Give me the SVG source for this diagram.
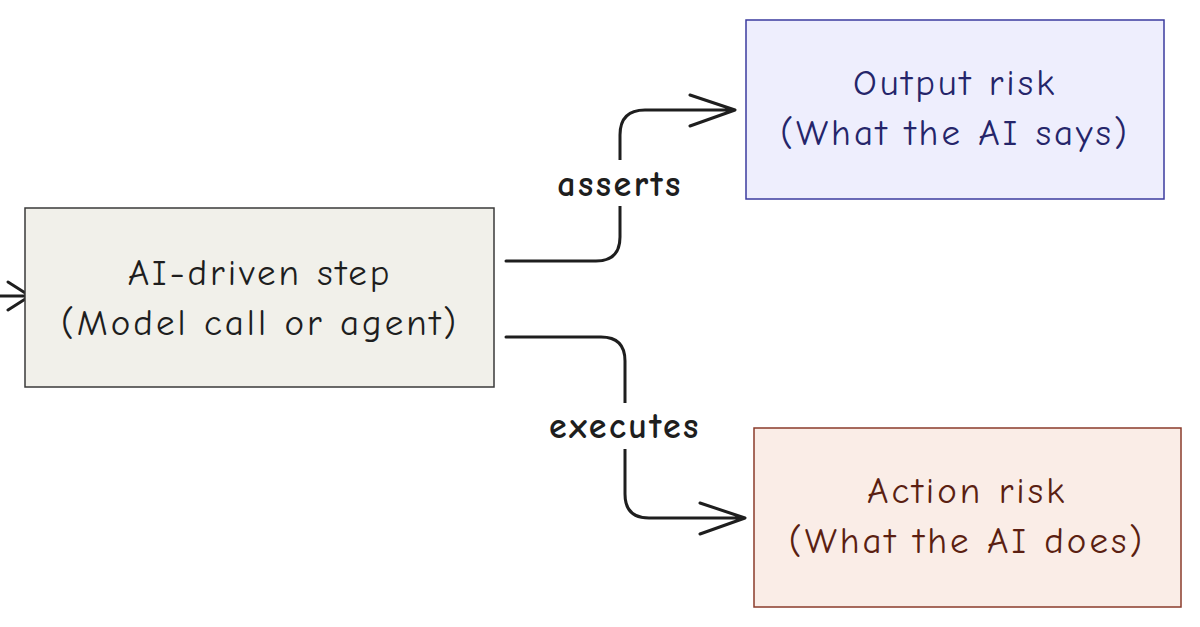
<svg xmlns="http://www.w3.org/2000/svg" width="1200" height="627" viewBox="0 0 1200 627">
<style>
.t{font-family:"Comic Neue","Liberation Sans",sans-serif;font-size:37px;letter-spacing:3px;text-anchor:middle}
.c{fill:none;stroke:#1e1e1e;stroke-width:3;stroke-linecap:round;stroke-linejoin:round}
.l{font-family:"Comic Neue","Liberation Sans",sans-serif;font-size:36px;letter-spacing:2.5px;font-weight:700;text-anchor:middle;fill:#1e1e1e}
</style>
<rect width="1200" height="627" fill="#ffffff"/>
<g id="connectors">
<path class="c" d="M0,296 H28 M8,282 L30,296 L8,310"/>
<path class="c" d="M506,261 H596 Q620,261 620,237 V135 Q620,110 645,110 H733 M690,95 L735,110 L690,126"/>
<path class="c" d="M506,337 H601 Q625,337 625,361 V494 Q625,518 649,518 H743 M700,503 L745,518 L700,534"/>
<rect x="540" y="160" width="160" height="46" fill="#ffffff"/>
<text class="l" x="620" y="196">asserts</text>
<rect x="530" y="403" width="190" height="46" fill="#ffffff"/>
<text class="l" x="625" y="438">executes</text>
</g>
<g id="ai-step">
<rect x="25" y="208" width="469" height="179" fill="#f1f0ea" stroke="#3a3a3a" stroke-width="1.5"/>
<text class="t" x="260" y="285" fill="#1e1e1e">AI-driven step</text>
<text class="t" x="260" y="335" fill="#1e1e1e">(Model call or agent)</text>
</g>
<g id="output-risk">
<rect x="746" y="20" width="418" height="179" fill="#eeeefd" stroke="#3b3b9e" stroke-width="1.5"/>
<text class="t" x="955" y="95" fill="#25256a">Output risk</text>
<text class="t" x="955" y="145" fill="#25256a">(What the AI says)</text>
</g>
<g id="action-risk">
<rect x="754" y="428" width="427" height="179" fill="#faede7" stroke="#8a3b2b" stroke-width="1.5"/>
<text class="t" x="967" y="503" fill="#5b1f12">Action risk</text>
<text class="t" x="967" y="553" fill="#5b1f12">(What the AI does)</text>
</g>
</svg>
